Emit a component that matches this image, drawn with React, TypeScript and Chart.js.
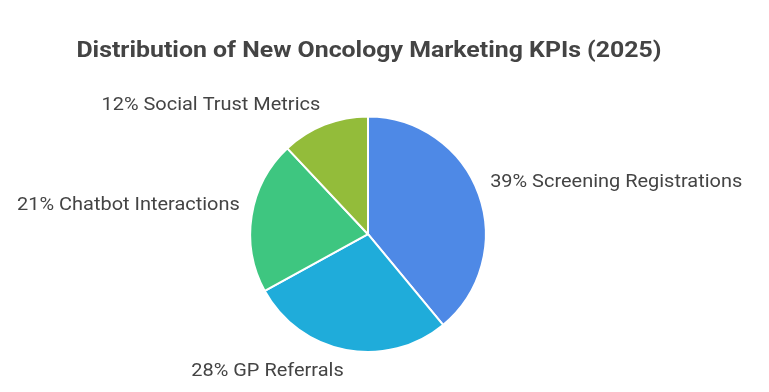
import React, { useEffect, useRef } from "react";
import { Chart, registerables } from "chart.js";

Chart.register(...registerables);

const TITLE = "Distribution of New Oncology Marketing KPIs (2025)";
const categories = ["Screening Registrations", "GP Referrals", "Chatbot Interactions", "Social Trust Metrics"];
const values = [39, 28, 21, 12];
const colors = ["#4E89E6", "#1FACDA", "#3EC680", "#93BC3A"];

function drawStretched(ctx: CanvasRenderingContext2D, text: string, x: number, y: number, align: CanvasTextAlign, sx: number) {
  ctx.save();
  ctx.translate(x, y);
  ctx.scale(sx, 1);
  ctx.textAlign = align;
  ctx.fillText(text, 0, 0);
  ctx.restore();
}

const textPlugin = {
  id: "textPlugin",
  afterDatasetsDraw(chart: any) {
    const ctx = chart.ctx as CanvasRenderingContext2D;
    const meta = chart.getDatasetMeta(0);
    const total = values.reduce((a, b) => a + b, 0);
    ctx.save();
    const ca = chart.chartArea;
    ctx.font = "bold 22px Roboto";
    ctx.fillStyle = "#444444";
    ctx.textBaseline = "middle";
    drawStretched(ctx, TITLE, (ca.left + ca.right) / 2 + 1, 51, "center", 1.13);
    ctx.font = "17.5px Roboto";
    meta.data.forEach((arc: any, i: number) => {
      const { x, y, startAngle, endAngle, outerRadius } = arc.getProps(
        ["x", "y", "startAngle", "endAngle", "outerRadius"],
        true
      );
      const mid = (startAngle + endAngle) / 2;
      const r = outerRadius + 12;
      const lx = x + Math.cos(mid) * r;
      let ly = y + Math.sin(mid) * r;
      ly += Math.sin(mid) > 0.5 ? 10 : -8;
      const text = `${Math.round((values[i] / total) * 100)}% ${categories[i]}`;
      drawStretched(ctx, text, lx, ly, Math.cos(mid) >= 0 ? "left" : "right", 1.14);
    });
    ctx.restore();
  },
};

export default function App() {
  const ref = useRef<HTMLCanvasElement>(null);
  useEffect(() => {
    document.body.style.margin = "0";
    const chart = new Chart(ref.current!, {
      type: "pie",
      data: {
        labels: categories,
        datasets: [
          {
            data: values,
            backgroundColor: colors,
            borderColor: "#ffffff",
            borderWidth: 2,
          },
        ],
      },
      options: {
        animation: false,
        responsive: false,
        maintainAspectRatio: false,
        layout: { padding: { top: 0, bottom: 39, left: 0, right: 33 } },
        plugins: {
          legend: { display: false },
          tooltip: { enabled: false },
          title: {
            display: true,
            text: TITLE,
            color: "rgba(0,0,0,0)",
            font: { family: "Roboto", size: 22, weight: "bold", lineHeight: 1.2 },
            padding: { top: 38, bottom: 51 },
          },
        },
      },
      plugins: [textPlugin],
    });
    return () => chart.destroy();
  }, []);
  return (
    <div style={{ width: 769, height: 392, background: "#ffffff" }}>
      <canvas ref={ref} width={769} height={392} style={{ width: 769, height: 392 }} />
    </div>
  );
}
